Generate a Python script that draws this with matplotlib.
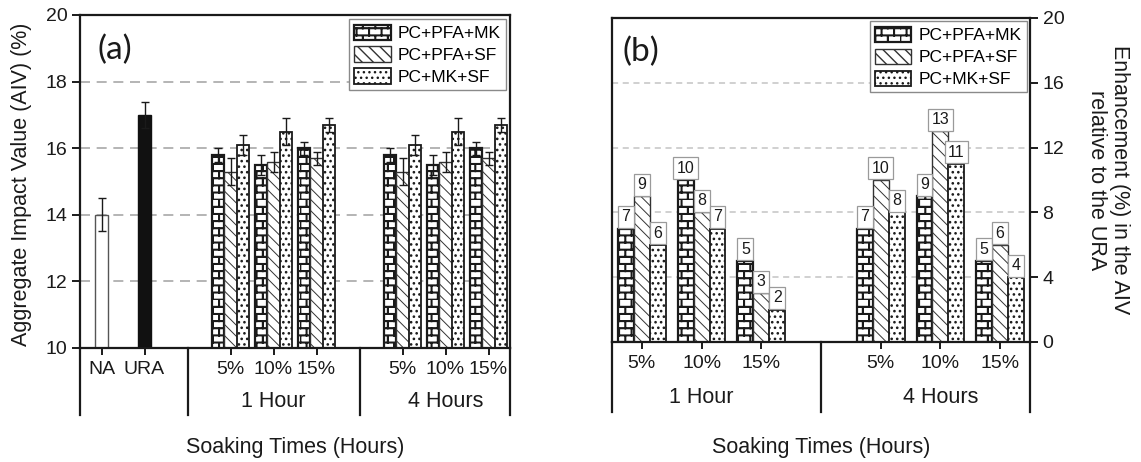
import warnings
import numpy as np
import matplotlib
matplotlib.use('Agg')
import matplotlib.pyplot as plt
import matplotlib.hatch as mhatch
from matplotlib.path import Path

warnings.filterwarnings('ignore')
plt.rcParams['font.family'] = ['Liberation Sans', 'DejaVu Sans']
plt.rcParams['hatch.linewidth'] = 1.0

# reference aggregates
ref_names = ['NA', 'URA']
ref_aiv = [14.0, 17.0]
ref_err = [0.5, 0.4]

mixes = ['PC+PFA+MK', 'PC+PFA+SF', 'PC+MK+SF']
dosages = ['5%', '10%', '15%']
soak_groups = ['1 Hour', '4 Hours']

# AIV (%) of treated URA, one row per mix
aiv_1h = [[15.8, 15.5, 16.0], [15.3, 15.6, 15.7], [16.1, 16.5, 16.7]]
aiv_4h = [[15.8, 15.5, 16.0], [15.3, 15.6, 15.7], [16.1, 16.5, 16.7]]
err_1h = [[0.2, 0.3, 0.2], [0.4, 0.3, 0.2], [0.3, 0.4, 0.2]]
err_4h = [[0.2, 0.3, 0.2], [0.4, 0.3, 0.2], [0.3, 0.4, 0.2]]

# enhancement (%) in the AIV relative to the URA
enh_1h = [[7, 10, 5], [9, 8, 3], [6, 7, 2]]
enh_4h = [[7, 9, 5], [10, 13, 6], [8, 11, 4]]


class BrickHatch(mhatch.HatchPatternBase):
    """brick wall hatch ('b'), every line drawn twice to look bold"""
    def __init__(self, hatch, density):
        n = hatch.count('b')
        self.rows = 14 * n
        self.cols = 8 * n
        self.d = 0.0065
        self.num_vertices = self.rows * (self.cols + 1) * 4

    def set_vertices_and_codes(self, vertices, codes):
        k = 0
        for i in range(self.rows):
            y0, y1 = i / self.rows, (i + 1) / self.rows
            for dy in (0, self.d):
                vertices[k] = (0, y0 + dy)
                vertices[k + 1] = (1, y0 + dy)
                k += 2
            shift = 0.5 * (i % 2)
            for j in range(self.cols):
                x = (j + shift) / self.cols
                for dx in (0, self.d):
                    vertices[k] = (x + dx, y0)
                    vertices[k + 1] = (x + dx, y1)
                    k += 2
        codes[0::2] = Path.MOVETO
        codes[1::2] = Path.LINETO


mhatch._hatch_types.append(BrickHatch)

hatches = ['b', '\\\\\\', '...']
edge_lw = [1.6, 1.0, 1.3]
edge_col = ['#1a1a1a', '#333333', '#1a1a1a']
hatch_lw = [1.0, 0.7, 1.1]
ink = '#1a1a1a'


def set_hatch_lw(bars, lw):
    for b in bars:
        if hasattr(b, 'set_hatch_linewidth'):
            b.set_hatch_linewidth(lw)


def category_frame(ax, seps, drop):
    # separators and spine extensions below the category axis
    lo, hi = ax.get_xlim()
    for x in [lo] + seps + [hi]:
        ax.plot([x, x], [0, -drop], color=ink, lw=1.6,
                transform=ax.get_xaxis_transform(), clip_on=False)


fig = plt.figure(figsize=(11.41, 4.62), dpi=100)

# ---------------- (a) ----------------
ax = fig.add_axes([80 / 1141, 114 / 462, 430 / 1141, 333 / 462])
ax.set_xlim(-0.5, 9.5)
ax.set_ylim(10, 20)
ekw = dict(elinewidth=1.0, capthick=1.0, ecolor=ink)

ref_x = [0, 1]
ax.bar(ref_x, ref_aiv, 0.28, yerr=ref_err, capsize=3, error_kw=ekw,
       color=['white', '#111111'], edgecolor=['#555555', '#111111'], linewidth=1.0, zorder=2)

pos_1h = [3, 4, 5]
pos_4h = [7, 8, 9]
wa = 0.28
for k, mix in enumerate(mixes):
    with plt.rc_context({'hatch.linewidth': hatch_lw[k]}):
        xs = np.array(pos_1h + pos_4h) + (k - 1) * wa
        bars = ax.bar(xs, aiv_1h[k] + aiv_4h[k], wa, yerr=err_1h[k] + err_4h[k],
                      capsize=3, error_kw=ekw, color='white', edgecolor=edge_col[k],
                      linewidth=edge_lw[k], hatch=hatches[k], label=mix, zorder=2)
        set_hatch_lw(bars, hatch_lw[k])

ax.set_yticks(range(10, 21, 2))
ax.yaxis.grid(True, linestyle=(0, (6, 4)), color='#a8a8a8', lw=1.2)
ax.set_axisbelow(True)
ax.set_xticks(ref_x + pos_1h + pos_4h)
ax.set_xticklabels(ref_names + dosages + dosages)
ax.tick_params(axis='x', length=5, width=1.4, pad=4, labelsize=14, colors=ink)
ax.tick_params(axis='y', length=6, width=1.4, pad=3, labelsize=14, colors=ink)
for s in ax.spines.values():
    s.set_linewidth(1.6)
    s.set_color(ink)
category_frame(ax, [2, 6], 0.20)
for x, g in zip([4, 8], soak_groups):
    ax.text(x, -0.162, g, transform=ax.get_xaxis_transform(), ha='center', va='center',
            fontsize=15.5, color=ink)
ax.text(0.04, 0.895, '(a)', transform=ax.transAxes, family=['Lato', 'DejaVu Sans'],
        fontsize=24, va='center', ha='left', color=ink)
leg = ax.legend(loc='upper right', fontsize=12.5, handlelength=2.1, handleheight=1.0,
                labelspacing=0.3, handletextpad=0.4, borderpad=0.3, borderaxespad=0.25,
                fancybox=False, edgecolor='#8a8a8a', framealpha=1)
leg.get_frame().set_linewidth(1.0)

fig.text(22 / 1141, 1 - 184 / 462, 'Aggregate Impact Value (AIV) (%)', rotation=90,
         ha='center', va='center', fontsize=15.5, color=ink)
fig.text(295 / 1141, 1 - 447 / 462, 'Soaking Times (Hours)', ha='center', va='center',
         fontsize=15.5, color=ink)

# ---------------- (b) ----------------
bx = fig.add_axes([612 / 1141, 120 / 462, 418 / 1141, 324 / 462])
bx.set_xlim(-0.5, 6.5)
bx.set_ylim(0, 20)

pos_1h_b = [0, 1, 2]
pos_4h_b = [4, 5, 6]
wb = 0.267
for k, mix in enumerate(mixes):
    with plt.rc_context({'hatch.linewidth': hatch_lw[k]}):
        xs = np.array(pos_1h_b + pos_4h_b) + (k - 1) * wb
        vals = enh_1h[k] + enh_4h[k]
        bars = bx.bar(xs, vals, wb, color='white', edgecolor=edge_col[k],
                      linewidth=edge_lw[k], hatch=hatches[k], label=mix, zorder=2)
        set_hatch_lw(bars, hatch_lw[k])
    for x, v in zip(xs, vals):
        bx.annotate(str(v), (x, v), xytext=(0, 3), textcoords='offset points',
                    ha='center', va='bottom', fontsize=11.5, color=ink,
                    bbox=dict(boxstyle='square,pad=0.22', fc='white', ec='#9a9a9a', lw=0.9))

bx.yaxis.tick_right()
bx.set_yticks(range(0, 21, 4))
bx.yaxis.grid(True, linestyle=(0, (4, 3)), color='#c4c4c4', lw=1.1)
bx.set_axisbelow(True)
bx.set_xticks(pos_1h_b + pos_4h_b)
bx.set_xticklabels(dosages + dosages)
bx.tick_params(axis='x', length=5, width=1.4, pad=4, labelsize=14, colors=ink)
bx.tick_params(axis='y', length=6, width=1.4, pad=3, labelsize=14, colors=ink)
for s in bx.spines.values():
    s.set_linewidth(1.6)
    s.set_color(ink)
category_frame(bx, [3], 0.216)
for x, g in zip([1, 5], soak_groups):
    bx.text(x, -0.170, g, transform=bx.get_xaxis_transform(), ha='center', va='center',
            fontsize=15.5, color=ink)
bx.text(0.024, 0.895, '(b)', transform=bx.transAxes, family=['Lato', 'DejaVu Sans'],
        fontsize=24, va='center', ha='left', color=ink)
leg = bx.legend(loc='upper right', fontsize=12.5, handlelength=2.1, handleheight=1.0,
                labelspacing=0.3, handletextpad=0.4, borderpad=0.3, borderaxespad=0.2,
                fancybox=False, edgecolor='#8a8a8a', framealpha=1)
leg.get_frame().set_linewidth(1.0)

fig.text(1108 / 1141, 1 - 180 / 462, 'Enhancement (%) in the AIV\nrelative to the URA',
         rotation=270, ha='center', va='center', multialignment='center',
         fontsize=15.5, color=ink, linespacing=1.1)
fig.text(821 / 1141, 1 - 447 / 462, 'Soaking Times (Hours)', ha='center', va='center',
         fontsize=15.5, color=ink)

fig.savefig('out.png', dpi=100)
